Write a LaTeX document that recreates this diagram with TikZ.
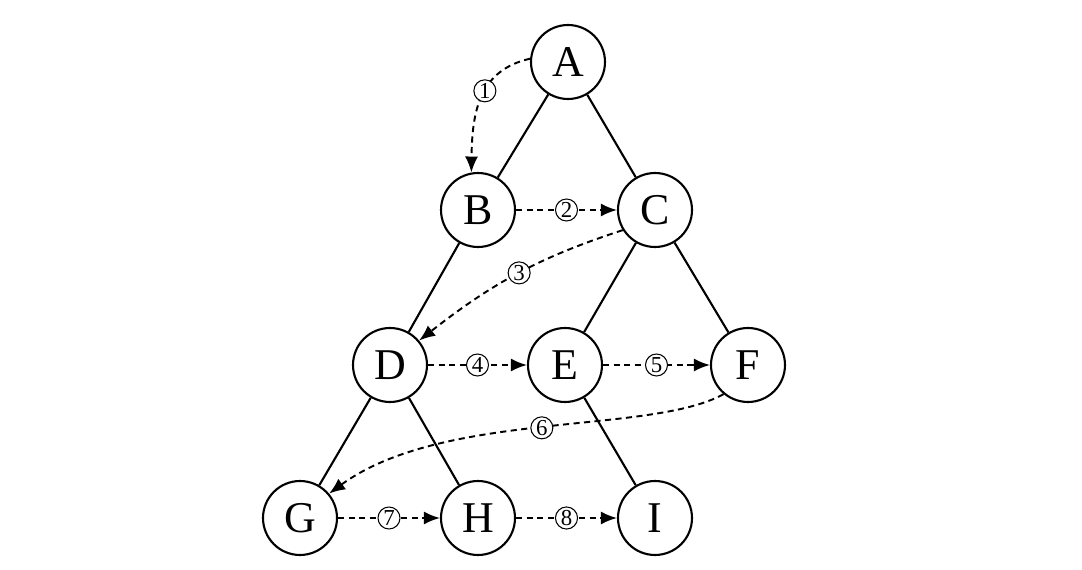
\documentclass[tikz,border=0pt]{standalone}
\usepackage{fontspec}
\setmainfont{Liberation Serif}
\usepackage{tikz}
\usetikzlibrary{arrows.meta}

\begin{document}
\begin{tikzpicture}[x=0.02cm,y=-0.02cm,
  vtx/.style={draw,circle,line width=1.2pt,minimum size=1.48cm,inner sep=0pt,
              font=\fontsize{25}{28}\selectfont,fill=white},
  edge/.style={line width=1.2pt},
  walk/.style={line width=1.1pt,dash pattern=on 3.5pt off 2.5pt,
               -{Latex[length=3.2mm,width=2.6mm]}},
  num/.style={draw,solid,circle,line width=0.6pt,inner sep=0.6pt,minimum size=0.44cm,
              fill=white,font=\fontsize{13}{13}\selectfont},
]
\useasboundingbox (0,0) rectangle (1082,570);

% tree nodes
\node[vtx] (A) at (568,62)  {A};
\node[vtx] (B) at (478,210) {B};
\node[vtx] (C) at (655,210) {C};
\node[vtx] (D) at (390,365) {D};
\node[vtx] (E) at (565,365) {E};
\node[vtx] (F) at (748,365) {F};
\node[vtx] (G) at (300,518) {G};
\node[vtx] (H) at (478,518) {H};
\node[vtx] (I) at (655,518) {I};

% tree edges
\draw[edge] (A) -- (B);
\draw[edge] (A) -- (C);
\draw[edge] (B) -- (D);
\draw[edge] (C) -- (E);
\draw[edge] (C) -- (F);
\draw[edge] (D) -- (G);
\draw[edge] (D) -- (H);
\draw[edge] (E) -- (I);

% visiting order
\draw[walk] (A.175) .. controls (480,70) and (472,110) .. node[num,pos=0.45] {1} (B.100);
\draw[walk] (C.212) to[out=198,in=38] node[num,pos=0.48] {3} (D.40);
\draw[walk] (B) -- node[num] {2} (C);
\draw[walk] (D) -- node[num] {4} (E);
\draw[walk] (E) -- node[num] {5} (F);
\draw[walk] (F.230) .. controls (650,435) and (444,410) .. node[num,pos=0.5] {6} (G.40);
\draw[walk] (G) -- node[num] {7} (H);
\draw[walk] (H) -- node[num] {8} (I);
\end{tikzpicture}
\end{document}
